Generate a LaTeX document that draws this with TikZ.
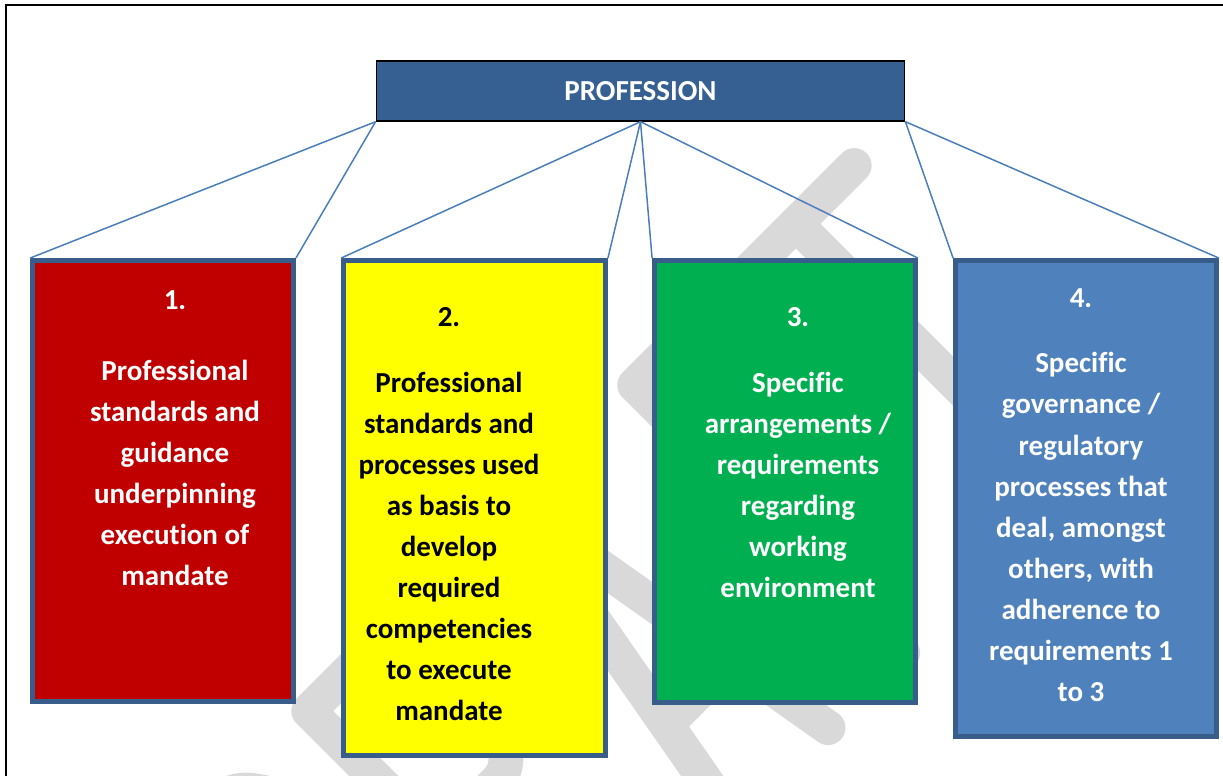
\documentclass[tikz,border=0pt]{standalone}
\usepackage{fontspec}
\setmainfont[Ligatures = CommonOff]{Carlito}
\usepackage{xcolor}
\usepackage{tikz}
\usetikzlibrary{calc}

\definecolor{profblue}{RGB}{54,96,146}
\definecolor{edgeblue}{RGB}{56,93,138}
\definecolor{lineblue}{RGB}{74,126,187}
\definecolor{boxred}{RGB}{192,0,0}
\definecolor{boxyellow}{RGB}{255,255,0}
\definecolor{boxgreen}{RGB}{0,176,80}
\definecolor{boxblue}{RGB}{79,129,189}
\definecolor{draftgray}{RGB}{217,217,217}

\begin{document}
\begin{tikzpicture}[x = 0.02cm, y = -0.02cm,
		box/.style = {draw = edgeblue, line width = 2.8pt, minimum width = 5.22cm},
		boxtext/.style = {anchor = north, align = center, inner sep = 0pt, font = \bfseries\fontsize{16.5}{23.4}\selectfont},
		link/.style = {lineblue, line width = 0.85pt},
		draft/.style = {draftgray, line width = 19.8pt, line cap = round, line join = round}]
		%page size
		\useasboundingbox (0, 0) rectangle (1223, 776);
		
		%variables
		\def\top{17.5};
		\def\base{396.5};
		
		%frame
		\draw [line width = 1.2pt] (6, 776) -- (6, 5) -- (1223, 5);
		
		%watermark
		\begin{scope}
			\clip (0, 0) rectangle (1223, 776);
			\begin{scope}[shift = {(497.5, 497.5)}, rotate = 45]
				% D
				\draw [draft] (-470, \base) -- (-470, \top) -- (-410, \top) .. controls (-320, \top) and (-320, \base) .. (-410, \base) -- cycle;
				% R
				\draw [draft] (-284.5, \base) -- (-284.5, \top) -- (-200, \top) .. controls (-140, \top) and (-140, 200) .. (-200, 200) -- (-284.5, 200);
				\draw [draft] (-230, 200) -- (-150, \base);
				% A
				\draw [draft] (-62, \base) -- (6, \top) -- (71, \base);
				\draw [draft] (-41, 280) -- (51, 280);
				% F
				\draw [draft] (176.5, \base) -- (176.5, \top) -- (262, \top);
				\draw [draft] (176.5, 205) -- (248, 205);
				% T
				\draw [draft] (322, \top) -- (487, \top);
				\draw [draft] (404.5, \top) -- (404.5, \base);
			\end{scope}
		\end{scope}
		
		%top box
		\node [draw = black, line width = 0.8pt, fill = profblue, minimum width = 10.57cm, minimum height = 1.2cm, text = white, font = \bfseries\fontsize{16.5}{20}\selectfont] (prof) at (640.5, 91) {PROFESSION};
		
		%boxes
		\node [box, fill = boxred, minimum height = 8.82cm] (b1) at (163, 481) {};
		\node [box, fill = boxyellow, minimum width = 5.24cm, minimum height = 9.9cm] (b2) at (474.5, 508) {};
		\node [box, fill = boxgreen, minimum height = 8.84cm] (b3) at (785, 481.5) {};
		\node [box, fill = boxblue, minimum height = 9.52cm] (b4) at (1086, 498.5) {};
		
		%texts
		\node [boxtext, white] (t1) at (175, 290) {1.\\[17pt] Professional\\ standards and\\ guidance\\ underpinning\\ execution of\\ mandate};
		\node [boxtext, black] (t2) at (449, 307) {2.\\[14pt] Professional\\ standards and\\ processes used\\ as basis to\\ develop\\ required\\ competencies\\ to execute\\ mandate};
		\node [boxtext, white] (t3) at (798, 307) {3.\\[14pt] Specific\\ arrangements /\\ requirements\\ regarding\\ working\\ environment};
		\node [boxtext, white] (t4) at (1081, 288) {4.\\[14pt] Specific\\ governance /\\ regulatory\\ processes that\\ deal, amongst\\ others, with\\ adherence to\\ requirements 1\\ to 3};
		
		%links
		\draw [link] (prof.south west) -- (b1.north west);
		\draw [link] (prof.south west) -- (b1.north east);
		\draw [link] (prof.south) -- (b2.north west);
		\draw [link] (prof.south) -- (b2.north east);
		\draw [link] (prof.south) -- (b3.north west);
		\draw [link] (prof.south) -- (b3.north east);
		\draw [link] (prof.south east) -- (b4.north west);
		\draw [link] (prof.south east) -- (b4.north east);
	\end{tikzpicture}
\end{document}
